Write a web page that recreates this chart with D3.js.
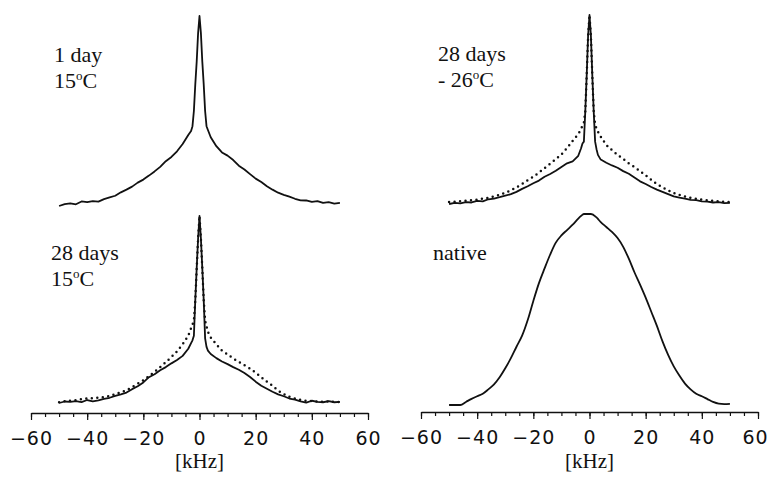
<!DOCTYPE html>
<html>
<head>
<meta charset="utf-8">
<script src="https://cdn.jsdelivr.net/npm/d3@7"></script>
<style>
  body { margin: 0; background: #fff; }
  svg { display: block; }
  .tick text { font-family: "DejaVu Sans", sans-serif; }
</style>
</head>
<body>
<script>

// frequency grid, kHz (denser around the central spike)
var freq = [-50, -48, -46, -44, -42, -40, -38, -36, -34, -32, -30, -28, -26, -24, -22, -20, -18, -16, -14, -12, -10, -8, -6, -4,
    -3, -2.5, -2, -1.5, -1, -0.5, 0, 0.5, 1, 1.5, 2, 2.5, 3,
    4, 6, 8, 10, 12, 14, 16, 18, 20, 22, 24, 26, 28, 30, 32, 34, 36, 38, 40, 42, 44, 46, 48, 50];

// relative intensity, peak = 100
var day1Solid = [0.0, 1.0, 1.4, 0.9, 2.4, 2.0, 2.6, 2.3, 3.6, 4.5, 5.4, 7.2, 8.6, 10.2, 12.3, 13.9, 16.0, 18.2, 20.6, 23.6, 25.8, 28.8, 32.6, 37.4,
    39.5, 42, 50, 64, 76, 91, 100, 91, 76, 64, 50, 42, 40,
    36.2, 31.5, 28.2, 26.5, 24.2, 21.2, 19.2, 16.8, 14.4, 12.6, 10.4, 8.6, 7.0, 5.9, 4.9, 3.8, 3.0, 2.9, 2.2, 2.6, 1.6, 2.0, 1.2, 1.6];

var cold28Solid = [0.0, 0.6, 0.3, 1.0, 0.8, 1.6, 1.4, 2.5, 2.9, 3.6, 4.4, 5.2, 6.4, 8.0, 9.4, 11.0, 12.4, 14.4, 15.9, 17.6, 19.6, 21.5, 22.6, 25.5,
    29.5, 32, 33, 49, 68, 89, 100, 89, 68, 49, 33, 29, 26,
    23.5, 21.8, 20.4, 19.2, 17.4, 16.0, 14.0, 12.0, 10.6, 9.0, 7.6, 6.4, 5.2, 4.0, 3.4, 2.9, 2.2, 2.0, 1.4, 1.3, 0.8, 1.0, 0.5, 0.6];

var cold28Dotted = [1.0, 1.2, 1.4, 1.7, 2.0, 2.3, 2.8, 3.3, 4.0, 4.8, 5.9, 7.2, 8.8, 10.6, 12.6, 14.4, 16.6, 19.0, 21.3, 23.7, 26.2, 29.6, 33.4, 37.0,
    39.6, 41.5, 43, 49, 68, 89, 100, 89, 68, 49, 42, 40, 38.3,
    35.6, 31.2, 28.5, 26.0, 23.8, 21.5, 19.6, 17.4, 15.2, 12.8, 10.5, 8.8, 7.2, 5.8, 4.8, 4.0, 3.3, 2.8, 2.3, 2.0, 1.6, 1.4, 1.2, 1.1];

var warm28Solid = [0.0, 0.8, 0.6, 1.0, 0.5, 1.6, 0.9, 1.4, 2.2, 2.8, 3.8, 4.6, 5.6, 7.4, 9.0, 11.0, 13.8, 15.4, 17.5, 19.2, 21.2, 23.0, 25.2, 29.0,
    32.0, 33.5, 36, 55, 72, 88, 100, 88, 72, 55, 34.6, 30, 28,
    26.2, 24.0, 22.2, 20.8, 19.2, 17.8, 16.0, 13.9, 11.4, 9.2, 7.6, 6.0, 4.6, 3.6, 2.4, 1.8, 0.9, 0.2, 1.2, 0.6, 0.4, 1.0, 0.4, 0.6];

var warm28Dotted = [0.4, 0.9, 1.2, 1.5, 2.0, 2.4, 2.6, 2.8, 3.1, 3.7, 4.8, 5.8, 6.8, 8.5, 10.3, 12.2, 14.4, 16.7, 19.2, 21.8, 24.6, 27.6, 31.4, 36.0,
    40.0, 42, 44, 55, 72, 88, 100, 88, 72, 55, 44, 41, 38,
    35, 31.4, 28.0, 26.0, 23.8, 22.0, 20.2, 18.4, 16.2, 13.8, 11.4, 9.2, 6.6, 4.8, 3.3, 2.4, 1.7, 1.2, 1.0, 0.8, 0.7, 0.8, 0.6, 0.6];

var nativeSolid = [0.0, 0.0, 0.0, 1.6, 3.2, 4.6, 5.9, 8.2, 10.8, 14.5, 19.2, 24.5, 30.5, 36.3, 44.5, 54.5, 63.8, 71.5, 78.8, 85.0, 88.8, 91.6, 94.4, 97.6,
    99.0, 99.6, 100, 100, 100, 100, 100, 100, 99.8, 99.4, 98.8, 98.2, 97.4,
    95.8, 93.2, 90.6, 87.4, 82.8, 76.6, 69.5, 63.0, 56.2, 48.8, 41.4, 33.3, 26.2, 20.2, 15.4, 11.2, 8.2, 5.9, 4.6, 3.1, 1.6, 0.7, 0.5, 0.6];

var majorTicks = [-60, -40, -20, 0, 20, 40, 60];
var minorTicks = [-60, -55, -50, -45, -40, -35, -30, -25, -20, -15, -10, -5, 0, 5, 10, 15, 20, 25, 30, 35, 40, 45, 50, 55, 60];
var axisTitle = "[kHz]";


var width = 769, height = 479;

var svg = d3.select("body").append("svg")
    .attr("width", width)
    .attr("height", height);

var xLeft = d3.scaleLinear().domain([-60, 60]).range([31, 368]);
var xRight = d3.scaleLinear().domain([-60, 60]).range([421, 758]);

// one entry per panel: which x scale, vertical extent of the trace, label lines
var panels = [
    { x: xLeft, base: 206, top: 16, solid: day1Solid, dotted: null, smooth: false,
      lx: 54, ly: 62, lines: [["1 day"], ["15", "o", "C"]] },
    { x: xRight, base: 204, top: 15, solid: cold28Solid, dotted: cold28Dotted, smooth: false,
      lx: 438, ly: 61, lines: [["28 days"], ["- 26", "o", "C"]] },
    { x: xLeft, base: 403, top: 216, solid: warm28Solid, dotted: warm28Dotted, smooth: false,
      lx: 51, ly: 260, lines: [["28 days"], ["15", "o", "C"]] },
    { x: xRight, base: 405, top: 214, solid: nativeSolid, dotted: null, smooth: true,
      lx: 433, ly: 260, lines: [["native"]] }
];

panels.forEach(function (p) {
    var y = d3.scaleLinear().domain([0, 100]).range([p.base, p.top]);
    var line = d3.line()
        .x(function (d, i) { return p.x(freq[i]); })
        .y(function (d) { return y(d); })
        .curve(p.smooth ? d3.curveMonotoneX : d3.curveLinear);

    if (p.dotted) {
        svg.append("path")
            .attr("d", line(p.dotted))
            .attr("fill", "none")
            .attr("stroke", "#111")
            .attr("stroke-width", 2.5)
            .attr("stroke-linecap", "round")
            .attr("stroke-dasharray", "0,5.5");
    }
    svg.append("path")
        .attr("d", line(p.solid))
        .attr("fill", "none")
        .attr("stroke", "#111")
        .attr("stroke-width", 1.8)
        .attr("stroke-linejoin", "round");

    // panel label
    p.lines.forEach(function (parts, k) {
        var t = svg.append("text")
            .attr("x", p.lx)
            .attr("y", p.ly + k * 26)
            .style("font-family", "'Liberation Serif', 'Times New Roman', serif")
            .style("font-size", "22px")
            .attr("fill", "#111");
        t.append("tspan").text(parts[0]);
        if (parts.length > 1) {
            t.append("tspan").attr("dy", -8).style("font-size", "13px").text(parts[1]);
            t.append("tspan").attr("dy", 8).text(parts[2]);
        }
    });
});

// bottom axes
[[xLeft, 413], [xRight, 412]].forEach(function (a, n) {
    var sx = a[0], ay = a[1];

    svg.append("g")
        .attr("transform", "translate(0," + ay + ")")
        .call(d3.axisBottom(sx).tickValues(minorTicks).tickSize(4).tickFormat(""))
        .call(function (g) { g.select(".domain").remove(); })
        .selectAll("line").attr("stroke", "#111").attr("stroke-width", 1.2);

    var g = svg.append("g")
        .attr("transform", "translate(0," + ay + ")")
        .call(d3.axisBottom(sx).tickValues(majorTicks).tickSize(7).tickSizeOuter(0).tickPadding(12));
    g.select(".domain").attr("stroke", "#111").attr("stroke-width", 1.4);
    g.selectAll("line").attr("stroke", "#111").attr("stroke-width", 1.2);
    g.selectAll("text")
        .style("font-size", "19px")
        .style("letter-spacing", "1px")
        .attr("fill", "#111");
    // the last label of the right axis sits against the page edge
    if (n === 1) {
        g.selectAll(".tick text")
            .filter(function (d) { return d === 60; })
            .attr("dx", -3);
    }

    svg.append("text")
        .attr("x", sx(0))
        .attr("y", 468)
        .attr("text-anchor", "middle")
        .style("font-family", "'Liberation Serif', 'Times New Roman', serif")
        .style("font-size", "21px")
        .attr("fill", "#111")
        .text(axisTitle);
});

</script>
</body>
</html>
